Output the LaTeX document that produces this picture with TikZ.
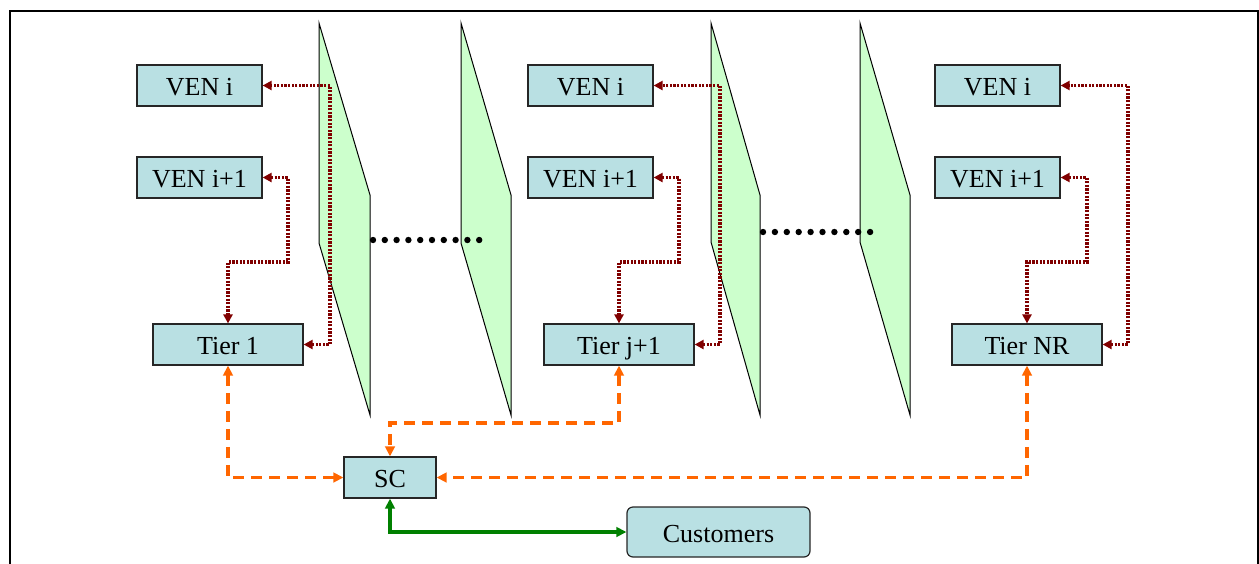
\documentclass[tikz,border=0pt]{standalone}
\usepackage{fontspec}
\setmainfont{Liberation Serif}
\usetikzlibrary{arrows.meta}
\definecolor{boxfill}{RGB}{185,224,227}
\definecolor{planefill}{RGB}{204,255,204}
\definecolor{redline}{RGB}{128,0,0}
\definecolor{orangeline}{RGB}{255,102,0}
\definecolor{greenline}{RGB}{0,128,0}
\begin{document}
\begin{tikzpicture}[x=0.5pt,y=-0.5pt,
  box/.style={draw=black!85, line width=0.6pt, fill=boxfill, inner sep=0pt,
    text height=10.1pt, text depth=0pt, font=\fontsize{13}{15}\selectfont},
  ven/.style={box, minimum width=62.5pt, minimum height=20.5pt},
  tier/.style={box, minimum width=75pt, minimum height=20.5pt},
  plane/.style={draw=black, line width=0.5pt, fill=planefill},
  redarrow/.style={draw=redline, line width=1.8pt, dash pattern=on 1.1pt off 0.7pt,
    {Triangle[length=4.5pt,width=4.5pt]}-{Triangle[length=4.5pt,width=4.5pt]}},
  orangearrow/.style={draw=orangeline, line width=1.8pt, dash pattern=on 5.5pt off 3.5pt,
    {Triangle[length=5pt,width=4.8pt]}-{Triangle[length=5pt,width=4.8pt]}},
  greenarrow/.style={draw=greenline, line width=1.7pt,
    {Triangle[length=5pt,width=4.8pt]}-{Triangle[length=5pt,width=4.8pt]}},
  dotrow/.style={fill=black}
]
\useasboundingbox (0,0) rectangle (1259,563);
\begin{scope}
  \clip (0,0) rectangle (1259,563);
  \draw[line width=1pt] (10,10.5) rectangle (1257.5,620);
\end{scope}

% planes
\draw[plane] (319,23) -- (370,195) -- (370,415) -- (319,243) -- cycle;
\draw[plane] (461,23) -- (511,195) -- (511,415) -- (461,243) -- cycle;
\draw[plane] (711,23) -- (760,195) -- (760,415) -- (711,242) -- cycle;
\draw[plane] (860,23) -- (910,195) -- (910,415) -- (860,242) -- cycle;

% dots
\foreach \i in {0,...,9} \fill[dotrow] (373+\i*11.8,240) circle (3.2);
\foreach \i in {0,...,9} \fill[dotrow] (763+\i*11.9,232) circle (3.2);

% boxes
\node[ven] (venLa) at (199.5,85.5) {VEN i};
\node[ven] (venLb) at (199.5,177.5) {VEN i+1};
\node[tier] (tierL) at (228,344.5) {Tier 1};
\node[ven] (venMa) at (590.5,85.5) {VEN i};
\node[ven] (venMb) at (590.5,177.5) {VEN i+1};
\node[tier] (tierM) at (619,344.5) {Tier j+1};
\node[ven] (venRa) at (997.5,85.5) {VEN i};
\node[ven] (venRb) at (997.5,177.5) {VEN i+1};
\node[tier] (tierR) at (1027,344.5) {Tier NR};
\node[box, minimum width=46pt, minimum height=20.5pt] (sc) at (390,477.5) {SC};
\node[box, rounded corners=3pt, minimum width=91.5pt, minimum height=25pt] (cust) at (718.5,532) {Customers};

% coordinates
\coordinate (cLa) at (330,344.5);
\coordinate (cLb) at (288,262);
\coordinate (cMa) at (720,344.5);
\coordinate (cMb) at (679,262);
\coordinate (cRa) at (1128,344.5);
\coordinate (cRb) at (1087,262);
\coordinate (cM) at (619,423);

% red connectors
\draw[redarrow] (tierL.east) -- (cLa) |- (venLa.east);
\draw[redarrow] (venLb.east) -| (cLb) -| (tierL.north);
\draw[redarrow] (tierM.east) -- (cMa) |- (venMa.east);
\draw[redarrow] (venMb.east) -| (cMb) -| (tierM.north);
\draw[redarrow] (tierR.east) -- (cRa) |- (venRa.east);
\draw[redarrow] (venRb.east) -| (cRb) -| (tierR.north);

% orange connectors
\draw[orangearrow] (tierL.south) |- (sc.west);
\draw[orangearrow] (tierM.south) -- (cM) -| (sc.north);
\draw[orangearrow] (tierR.south) |- (sc.east);

% green connector
\draw[greenarrow] (sc.south) |- (cust.west);
\end{tikzpicture}
\end{document}
